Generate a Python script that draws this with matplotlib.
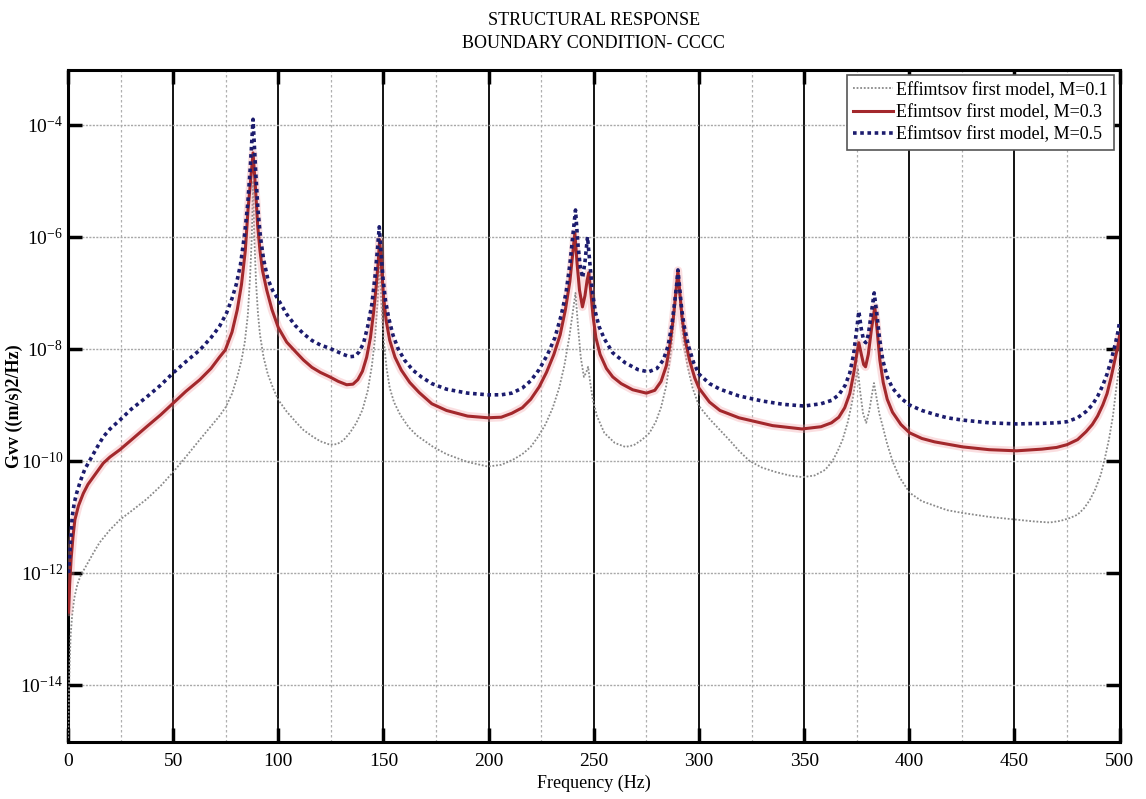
import numpy as np
import matplotlib
matplotlib.use("Agg")
import matplotlib.pyplot as plt
from matplotlib.ticker import FixedLocator, MultipleLocator, LogFormatterMathtext

plt.rcParams['font.family'] = ['Liberation Serif', 'DejaVu Serif']
plt.rcParams['mathtext.fontset'] = 'stix'

# (frequency Hz, log10 Gvv) pairs, one list per Mach number
m01_points = [
    (0.1, -14.95), (0.4, -14.3), (0.8, -13.6), (1.3, -13.1), (2, -12.75), (3, -12.45),
    (4.5, -12.2), (6, -12.05), (9, -11.85), (12, -11.65), (15, -11.46), (20, -11.23),
    (24.7, -11.05), (30, -10.9), (37.5, -10.68), (44, -10.45), (50, -10.2), (56, -9.93),
    (62.7, -9.62), (68, -9.38), (72, -9.2), (75, -9.04), (78, -8.8), (80.5, -8.5),
    (82.5, -8.2), (84, -7.9), (85.5, -7.4), (86.6, -6.7), (87.4, -6.0), (88, -5.0),
    (88.6, -6.0), (89.4, -6.8), (90.3, -7.35), (91.3, -7.75), (93, -8.15), (95, -8.45),
    (97.5, -8.7), (100, -8.91), (104, -9.12), (108.7, -9.32), (112, -9.45), (116.5, -9.57),
    (120, -9.65), (124.5, -9.71), (128, -9.7), (131, -9.63), (134, -9.5), (137, -9.33),
    (140, -9.09), (142.5, -8.75), (144.5, -8.3), (146, -7.8), (147.3, -7.1), (148.1, -6.4),
    (148.9, -7.1), (150, -7.8), (151.5, -8.35), (153, -8.7), (155, -8.95), (158, -9.18),
    (162, -9.4), (166, -9.55), (173.6, -9.75), (180, -9.88), (190, -10.02), (199.6, -10.1),
    (206, -10.07), (211.5, -9.98), (216, -9.88), (220, -9.75), (223.5, -9.57), (227, -9.35),
    (230.5, -9.05), (233.5, -8.7), (236, -8.3), (238.3, -7.8), (240, -7.35), (241.3, -7.0),
    (242.5, -7.6), (243.8, -8.15), (245.3, -8.5), (246.4, -8.42), (247.3, -8.32),
    (248.3, -8.6), (249.5, -8.9), (251.5, -9.2), (255, -9.5), (260, -9.68), (265, -9.75),
    (269, -9.72), (273, -9.62), (276.5, -9.5), (279.5, -9.3), (282, -9.04), (284.5, -8.65),
    (286.5, -8.1), (288.2, -7.45), (289.3, -7.0), (290, -6.6), (290.8, -7.05),
    (291.8, -7.55), (293, -7.95), (294.5, -8.3), (297, -8.7), (300, -9.02), (305, -9.25),
    (310, -9.45), (315, -9.65), (319, -9.82), (324, -10.0), (330, -10.12), (336.6, -10.2),
    (343, -10.26), (349.3, -10.29), (355, -10.26), (360, -10.16), (363.5, -10.0),
    (366, -9.82), (368.3, -9.62), (370.8, -9.3), (373, -8.91), (374.5, -8.55),
    (375.5, -8.34), (376.6, -8.75), (378, -9.15), (379.5, -9.32), (381, -9.1),
    (382.3, -8.8), (383.2, -8.61), (384.3, -8.85), (385.7, -9.15), (387.4, -9.39),
    (389.5, -9.7), (392, -10.0), (395.3, -10.29), (400.2, -10.57), (406, -10.72),
    (412, -10.8), (418, -10.88), (425.4, -10.93), (438, -11.0), (451, -11.05),
    (459, -11.08), (466.8, -11.1), (472, -11.07), (476.3, -11.02), (480, -10.96),
    (483, -10.85), (485.8, -10.7), (488.5, -10.5), (491, -10.25), (493, -9.95),
    (495, -9.6), (496.8, -9.2), (498.3, -8.73), (499.3, -8.45), (500, -8.3),
]

m03_points = [
    (0.3, -12.7), (0.8, -12.2), (1.5, -11.75), (2.4, -11.35), (3.3, -11.05), (5, -10.8),
    (7.3, -10.58), (9.5, -10.42), (12, -10.29), (14.5, -10.16), (16.8, -10.04),
    (20, -9.93), (24.7, -9.8), (30, -9.63), (37.4, -9.39), (44, -9.18), (50, -8.97),
    (56, -8.76), (62.7, -8.55), (68, -8.35), (72, -8.15), (74.8, -8.02), (78, -7.7),
    (80.5, -7.3), (82.5, -6.85), (84.3, -6.25), (85.6, -5.52), (86.8, -5.0), (88, -4.5),
    (89.1, -5.1), (90.2, -5.8), (91.3, -6.25), (92.5, -6.6), (94.5, -6.95), (97, -7.3),
    (100, -7.62), (104, -7.88), (108.7, -8.07), (112, -8.2), (116, -8.33), (120, -8.42),
    (124.5, -8.5), (128.5, -8.58), (132.5, -8.64), (135.5, -8.63), (137.8, -8.55),
    (140, -8.4), (142, -8.15), (143.8, -7.8), (145.3, -7.35), (146.5, -6.9), (147.5, -6.45),
    (148.2, -6.05), (149, -6.5), (150, -7.05), (151.3, -7.5), (153, -7.85), (155.5, -8.15),
    (158.5, -8.38), (162.5, -8.6), (167, -8.78), (173, -8.98), (180, -9.1), (190, -9.2),
    (199.6, -9.23), (206, -9.22), (211, -9.15), (216, -9.05), (220, -8.9), (224, -8.68),
    (227.5, -8.42), (231, -8.1), (234, -7.75), (236.5, -7.3), (238.6, -6.8), (240, -6.3),
    (241, -5.93), (242, -6.45), (243.2, -6.95), (244.6, -7.25), (245.8, -7.05),
    (246.8, -6.78), (247.6, -6.64), (248.5, -6.95), (249.6, -7.4), (251, -7.8),
    (253, -8.1), (256, -8.35), (259, -8.5), (263, -8.62), (268.5, -8.73), (275, -8.79),
    (279, -8.74), (282, -8.58), (284.5, -8.3), (286.3, -7.9), (287.8, -7.45), (289, -7.0),
    (290, -6.6), (290.9, -7.0), (292, -7.45), (293.5, -7.85), (295.5, -8.2), (298, -8.52),
    (300, -8.7), (305, -8.95), (310, -9.1), (319, -9.23), (335, -9.37), (349, -9.43),
    (358, -9.39), (363, -9.32), (366.5, -9.22), (369.3, -9.05), (371.7, -8.8),
    (373.5, -8.45), (375, -8.1), (376, -7.89), (377.2, -8.1), (378.3, -8.28),
    (379.2, -8.32), (380.5, -8.1), (382, -7.65), (383.6, -7.25), (384.8, -7.7),
    (386, -8.2), (387.6, -8.6), (389.5, -8.9), (392, -9.13), (396, -9.35), (400.2, -9.5),
    (406, -9.6), (412, -9.66), (425.4, -9.75), (438, -9.8), (451, -9.82), (463, -9.79),
    (470, -9.76), (475, -9.71), (480, -9.62), (484, -9.48), (487, -9.35), (489.5, -9.2),
    (492, -9.0), (494, -8.8), (496, -8.5), (498, -8.15), (499.3, -7.92), (500, -7.75),
]

m05_points = [
    (0.3, -12.0), (1, -11.6), (2, -11.0), (3, -10.75), (4.1, -10.58), (6, -10.35),
    (8, -10.15), (10.5, -9.98), (13.5, -9.78), (16.8, -9.57), (20, -9.43), (24.7, -9.27),
    (30, -9.08), (37.4, -8.86), (44, -8.65), (50, -8.43), (56, -8.23), (62.7, -8.02),
    (68, -7.8), (72, -7.6), (75.4, -7.36), (78, -7.1), (80, -6.85), (82, -6.5),
    (84, -5.95), (85.5, -5.4), (86.7, -4.75), (88, -3.9), (89.2, -4.8), (90.3, -5.5),
    (91.5, -6.0), (93, -6.4), (95, -6.75), (97.5, -6.97), (100, -7.12), (104, -7.38),
    (108, -7.58), (112, -7.73), (116, -7.85), (120, -7.93), (124.5, -7.99), (128, -8.05),
    (131, -8.1), (134, -8.14), (136.5, -8.13), (138.5, -8.05), (140.5, -7.9),
    (142.5, -7.6), (144.5, -7.2), (146, -6.7), (147.2, -6.2), (148, -5.82), (148.8, -6.25),
    (149.8, -6.75), (151, -7.15), (152.5, -7.45), (154.5, -7.75), (157, -8.0), (160, -8.2),
    (164, -8.38), (168, -8.5), (173, -8.62), (180, -8.72), (190, -8.79), (199.6, -8.82),
    (206, -8.82), (211, -8.79), (216, -8.7), (220, -8.57), (224, -8.37), (228, -8.1),
    (231.5, -7.8), (234.5, -7.4), (236.8, -7.0), (238.6, -6.5), (240, -6.0),
    (241.3, -5.52), (242.5, -6.15), (243.6, -6.55), (244.7, -6.73), (245.8, -6.45),
    (247, -6.0), (248.2, -6.5), (249.4, -7.0), (250.8, -7.35), (252.5, -7.6), (255, -7.82),
    (259, -8.07), (265, -8.25), (271, -8.37), (276, -8.41), (280, -8.35), (283, -8.2),
    (285.3, -7.95), (287, -7.6), (288.5, -7.15), (289.4, -6.85), (290, -6.59),
    (290.8, -6.9), (291.8, -7.3), (293, -7.6), (295, -7.95), (297.5, -8.25), (300, -8.45),
    (305, -8.62), (310, -8.72), (319, -8.84), (330, -8.93), (340, -8.99), (350, -9.02),
    (358, -8.98), (363, -8.92), (366.5, -8.82), (369.5, -8.65), (371.7, -8.43),
    (373.5, -8.1), (375, -7.65), (376, -7.33), (377.2, -7.65), (378.3, -7.85),
    (379.3, -7.89), (380.5, -7.75), (381.8, -7.4), (383.3, -7.0), (384.5, -7.35),
    (385.8, -7.8), (387.4, -8.2), (389.5, -8.5), (392, -8.7), (396, -8.88), (400, -9.0),
    (406, -9.1), (412, -9.17), (418, -9.23), (425, -9.27), (438, -9.32), (451, -9.34),
    (463, -9.33), (470, -9.32), (475, -9.3), (480, -9.23), (484, -9.12), (487, -9.0),
    (489.5, -8.85), (492, -8.65), (494, -8.45), (496, -8.2), (498, -7.9), (499.3, -7.68),
    (500, -7.5),
]

labels = ["Effimtsov first model, M=0.1",
          "Efimtsov first model, M=0.3",
          "Efimtsov first model, M=0.5"]


def to_xy(points):
    f, lg = zip(*points)
    return np.array(f), 10.0 ** np.array(lg)


f01, g01 = to_xy(m01_points)
f03, g03 = to_xy(m03_points)
f05, g05 = to_xy(m05_points)

fig = plt.figure(figsize=(11.46, 7.99), dpi=100)
ax = fig.add_axes([0.0593, 0.0713, 0.9177, 0.8411])

ax.set_yscale('log')
ax.plot(f01, g01, color='#8a8a8a', lw=1.3, linestyle=(0, (1, 1)), label=labels[0], zorder=3)
# soft pink halo around the red curve
ax.plot(f03, g03, color='#f3a3a8', lw=6, alpha=0.35, solid_capstyle='round', zorder=3)
ax.plot(f03, g03, color='#a3282c', lw=2.2, label=labels[1], zorder=4)
ax.plot(f05, g05, color='#1c1c6e', lw=2.6, linestyle=(0, (1, 1)), label=labels[2], zorder=5)

ax.set_xlim(0, 500)
ax.set_ylim(10.0 ** -15.02, 10.0 ** -3.02)

ax.xaxis.set_major_locator(MultipleLocator(50))
ax.xaxis.set_minor_locator(MultipleLocator(25))
ax.yaxis.set_major_locator(FixedLocator([1e-14, 1e-12, 1e-10, 1e-8, 1e-6, 1e-4]))
ax.yaxis.set_minor_locator(FixedLocator([]))
ax.yaxis.set_major_formatter(LogFormatterMathtext())

ax.grid(True, which='major', axis='x', color='black', lw=1.3, linestyle='-', zorder=1)
ax.grid(True, which='minor', axis='x', color='#b0b0b0', lw=0.9, linestyle=(0, (2, 2)))
ax.grid(True, which='major', axis='y', color='#a8a8a8', lw=1.0, linestyle=(0, (1.5, 1)))
ax.set_axisbelow(True)

ax.tick_params(which='major', direction='in', top=True, right=True, length=10, width=2.5,
               labelsize=14)
ax.tick_params(axis='x', which='major', pad=8)
ax.tick_params(which='minor', length=0)
for sp in ax.spines.values():
    sp.set_linewidth(2.2)

ax.set_title("STRUCTURAL RESPONSE\nBOUNDARY CONDITION- CCCC", fontsize=13, pad=16,
             linespacing=1.45)
ax.set_xlabel("Frequency (Hz)", fontsize=13, labelpad=3)
ax.set_ylabel("Gvv ((m/s)2/Hz)", fontsize=13, fontweight='bold')
ax.yaxis.set_label_coords(-0.043, 0.5)

leg = ax.legend(loc='upper right', fontsize=13, fancybox=False, framealpha=1,
                edgecolor='#555555', borderaxespad=0.3, handlelength=2.2,
                handletextpad=0.2, borderpad=0.35, labelspacing=0.3)
leg.get_frame().set_linewidth(1.2)

fig.savefig("out.png", dpi=100)
